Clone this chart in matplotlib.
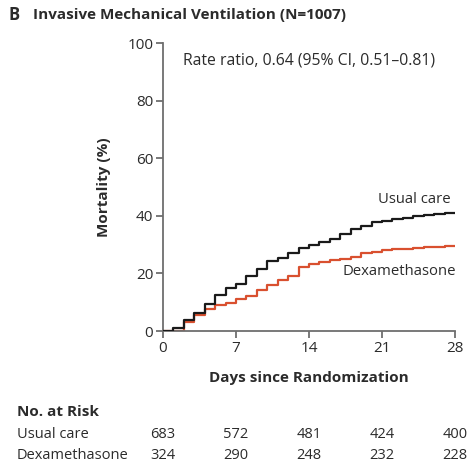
import matplotlib
matplotlib.use("Agg")
import matplotlib.pyplot as plt
from matplotlib.transforms import blended_transform_factory

plt.rcParams['font.family'] = ['Open Sans', 'DejaVu Sans']

days = list(range(0, 29))
usual_care = [0, 1.1, 3.8, 6.4, 9.5, 12.6, 14.9, 16.3, 19.0, 21.5, 24.3, 25.5, 27.0, 28.7,
              29.8, 31.0, 32.1, 33.7, 35.4, 36.6, 37.7, 38.2, 38.9, 39.4, 39.8, 40.2, 40.7, 41.1, 41.1]
dexamethasone = [0, 0, 3.0, 5.7, 7.8, 8.9, 9.8, 11.0, 12.3, 14.3, 16.0, 17.7, 19.2, 22.1,
                 23.2, 24.0, 24.7, 25.1, 25.8, 27.0, 27.5, 28.0, 28.3, 28.6, 28.8, 29.0, 29.3, 29.5, 29.5]

risk_days = [0, 7, 14, 21, 28]
risk_usual = [683, 572, 481, 424, 400]
risk_dexa = [324, 290, 248, 232, 228]

xticks = [0, 7, 14, 21, 28]
yticks = [0, 20, 40, 60, 80, 100]

W, H = 471, 465
fig = plt.figure(figsize=(W / 100, H / 100), dpi=100)
ax = fig.add_axes([163 / W, (H - 331) / H, (455 - 163) / W, (331 - 43) / H])

txt = '#2b2b2b'
spine_c = '#6e6e6e'

ax.step(days, usual_care, where='post', color='#1a1a1a', lw=1.6, zorder=3)
ax.step(days, dexamethasone, where='post', color='#d9502f', lw=1.6, zorder=2)

ax.set_xlim(0, 28)
ax.set_ylim(0, 100)
ax.set_xticks(xticks)
ax.set_yticks(yticks)
for s in ['top', 'right']:
    ax.spines[s].set_visible(False)
for s in ['left', 'bottom']:
    ax.spines[s].set_color(spine_c)
    ax.spines[s].set_linewidth(1.3)
ax.tick_params(axis='both', colors=spine_c, labelcolor=txt, labelsize=11, length=5, width=1.3, pad=2)

ax.set_ylabel('Mortality (%)', fontsize=11, fontweight='bold', color=txt, labelpad=12)
ax.set_xlabel('Days since Randomization', fontsize=11, fontweight='bold', color=txt, labelpad=11)

ax.text(1.9, 94, 'Rate ratio, 0.64 (95% CI, 0.51\u20130.81)', fontsize=11.3, color=txt, va='center')
ax.text(27.6, 45.5, 'Usual care', fontsize=10.7, color=txt, ha='right', va='center')
ax.text(28.1, 20.5, 'Dexamethasone', fontsize=10.7, color=txt, ha='right', va='center')

fig.text(8 / W, 1 - 15 / H, 'B', fontsize=12, fontweight='bold', color=txt, va='center')
fig.text(33 / W, 1 - 15 / H, 'Invasive Mechanical Ventilation (N=1007)', fontsize=11,
         fontweight='bold', color=txt, va='center')

fig.text(17 / W, 1 - 412 / H, 'No. at Risk', fontsize=11, fontweight='bold', color=txt, va='center')
fig.text(17 / W, 1 - 434 / H, 'Usual care', fontsize=10.5, color=txt, va='center')
fig.text(17 / W, 1 - 455 / H, 'Dexamethasone', fontsize=10.5, color=txt, va='center')

tr = blended_transform_factory(ax.transData, fig.transFigure)
for d, u, x in zip(risk_days, risk_usual, risk_dexa):
    ax.text(d, 1 - 434 / H, str(u), transform=tr, fontsize=10.5, color=txt, ha='center', va='center', clip_on=False)
    ax.text(d, 1 - 455 / H, str(x), transform=tr, fontsize=10.5, color=txt, ha='center', va='center', clip_on=False)

fig.savefig('out.png', dpi=100)
